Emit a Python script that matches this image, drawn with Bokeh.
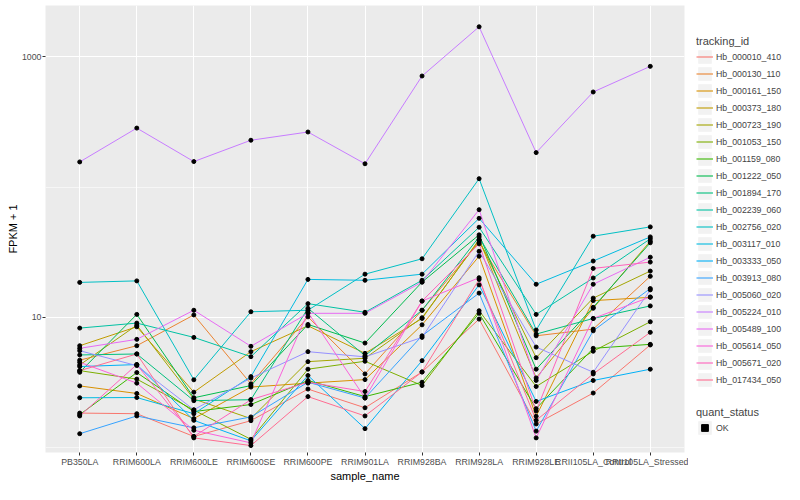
from bokeh.plotting import figure
from bokeh.models import Range1d, FixedTicker, BasicTickFormatter, Legend, LegendItem
from bokeh.layouts import row
from bokeh.embed import file_html
from bokeh.resources import INLINE

samples = ["PB350LA", "RRIM600LA", "RRIM600LE", "RRIM600SE", "RRIM600PE", "RRIM901LA",
           "RRIM928BA", "RRIM928LA", "RRIM928LE", "RRII105LA_Control", "RRII105LA_Stressed"]

tracking_ids = ["Hb_000010_410", "Hb_000130_110", "Hb_000161_150", "Hb_000373_180", "Hb_000723_190",
                "Hb_001053_150", "Hb_001159_080", "Hb_001222_050", "Hb_001894_170", "Hb_002239_060",
                "Hb_002756_020", "Hb_003117_010", "Hb_003333_050", "Hb_003913_080", "Hb_005060_020",
                "Hb_005224_010", "Hb_005489_100", "Hb_005614_050", "Hb_005671_020", "Hb_017434_050"]

colors = ["#F8766D", "#EA8331", "#D89000", "#C09B00", "#A3A500", "#7CAE00", "#39B600", "#00BB4E",
          "#00BF7D", "#00C1A3", "#00BFC4", "#00BAE0", "#00B0F6", "#35A2FF", "#9590FF", "#C77CFF",
          "#E76BF3", "#FA62DB", "#FF62BC", "#FF6C91"]

# FPKM + 1 per sample (order of `samples`)
Hb_000010_410 = [1.83, 1.81, 1.21, 1.60, 2.80, 2.01, 3.79, 9.66, 1.51, 2.61, 6.11]
Hb_000130_110 = [4.67, 6.03, 10.4, 3.07, 10.05, 3.66, 11.3, 37.7, 7.19, 8.09, 20.6]
Hb_000161_150 = [2.96, 2.59, 1.66, 2.90, 3.11, 3.31, 8.73, 29.4, 1.73, 13.4, 14.2]
Hb_000373_180 = [6.03, 8.43, 2.65, 5.43, 8.58, 5.27, 9.77, 39.5, 3.41, 11.7, 38.4]
Hb_000723_190 = [4.29, 8.68, 2.35, 1.66, 4.55, 4.83, 9.9, 39.0, 4.88, 14.0, 22.6]
Hb_001053_150 = [3.88, 3.34, 1.93, 1.15, 3.98, 4.58, 2.98, 11.2, 2.93, 5.47, 9.21]
Hb_001159_080 = [1.78, 3.75, 1.88, 2.13, 3.26, 2.45, 3.16, 10.7, 1.98, 5.76, 6.18]
Hb_001222_050 = [3.77, 10.5, 2.40, 2.98, 8.79, 6.32, 18.6, 42.9, 3.98, 11.9, 37.3]
Hb_001894_170 = [5.12, 5.21, 2.28, 2.32, 11.7, 5.06, 11.3, 41.4, 7.41, 9.77, 12.2]
Hb_002239_060 = [8.24, 9.00, 6.99, 4.97, 12.7, 10.9, 19.2, 49.1, 10.5, 20.0, 40.0]
Hb_002756_020 = [18.5, 19.0, 3.30, 11.0, 11.3, 21.4, 28.1, 116.0, 7.96, 41.9, 49.4]
Hb_003117_010 = [2.40, 2.41, 1.81, 3.49, 19.5, 19.2, 21.4, 57.5, 17.9, 27.0, 41.4]
Hb_003333_050 = [4.17, 4.32, 1.61, 1.12, 3.56, 1.39, 4.63, 17.7, 2.25, 3.26, 3.98]
Hb_003913_080 = [1.27, 1.74, 1.41, 1.71, 3.16, 2.39, 7.19, 15.3, 1.33, 7.85, 16.6]
Hb_005060_020 = [5.52, 4.24, 1.94, 3.40, 5.43, 4.95, 6.99, 32.1, 5.89, 3.77, 16.2]
Hb_005224_010 = [156.0, 284.0, 157.0, 229.0, 265.0, 151.0, 714.0, 1706.0, 184.0, 538.0, 847.0]
Hb_005489_100 = [5.76, 6.75, 11.3, 5.97, 10.7, 10.7, 18.6, 67.0, 3.26, 17.9, 28.9]
Hb_005614_050 = [4.50, 3.11, 1.35, 1.08, 10.9, 2.39, 13.3, 20.1, 1.18, 9.77, 14.3]
Hb_005671_020 = [1.74, 4.32, 1.21, 2.32, 3.16, 2.68, 13.3, 36.6, 1.90, 23.7, 26.5]
Hb_017434_050 = [3.88, 5.21, 1.18, 1.03, 2.45, 1.74, 3.79, 19.5, 1.61, 3.66, 7.64]

series = [Hb_000010_410, Hb_000130_110, Hb_000161_150, Hb_000373_180, Hb_000723_190,
          Hb_001053_150, Hb_001159_080, Hb_001222_050, Hb_001894_170, Hb_002239_060,
          Hb_002756_020, Hb_003117_010, Hb_003333_050, Hb_003913_080, Hb_005060_020,
          Hb_005224_010, Hb_005489_100, Hb_005614_050, Hb_005671_020, Hb_017434_050]

quant_status = ["OK"]

FONT = "Liberation Sans"
xs = list(range(1, len(samples) + 1))

p = figure(width=688, height=484, x_range=Range1d(0.4, len(samples) + 0.6),
           y_axis_type="log", y_range=Range1d(0.911, 2487),
           output_backend="svg", toolbar_location=None,
           min_border_left=45, min_border_right=4, min_border_top=5, min_border_bottom=30)

p.background_fill_color = "#EBEBEB"
p.border_fill_color = "white"
p.outline_line_color = None

p.xaxis.ticker = FixedTicker(ticks=xs)
p.xaxis.major_label_overrides = {x: s for x, s in zip(xs, samples)}
p.xgrid.ticker = FixedTicker(ticks=xs)
yt = FixedTicker(ticks=[10, 1000], minor_ticks=[1, 100])
p.yaxis.ticker = yt
p.ygrid.ticker = yt
p.yaxis.formatter = BasicTickFormatter(use_scientific=False)

p.grid.grid_line_color = "white"
p.grid.grid_line_width = 1.1
p.ygrid.minor_grid_line_color = "white"
p.ygrid.minor_grid_line_width = 0.55

p.axis.axis_line_color = None
p.axis.major_tick_line_color = "#333333"
p.axis.major_tick_out = 3
p.axis.major_tick_in = 0
p.axis.minor_tick_out = 0
p.axis.minor_tick_in = 0
p.axis.minor_tick_line_color = None
p.axis.major_label_standoff = 1
p.axis.major_label_text_font = FONT
p.axis.major_label_text_font_size = "8.8px"
p.axis.major_label_text_color = "#4D4D4D"
p.axis.axis_label_text_font = FONT
p.axis.axis_label_text_font_size = "11px"
p.axis.axis_label_text_font_style = "normal"
p.axis.axis_label_text_color = "black"
p.axis.axis_label_standoff = 0
p.xaxis.axis_label = "sample_name"
p.yaxis.axis_label = "FPKM + 1"

for vals, c in zip(series, colors):
    p.line(x=xs, y=vals, line_color=c, line_width=1.0)
for vals in series:
    p.scatter(x=xs, y=vals, size=4, color="black")

# legend panel (its glyphs sit outside its visible range; only the legends show)
lg = figure(width=96, height=484, x_range=Range1d(0, 1), y_range=Range1d(0, 1),
            output_backend="svg", toolbar_location=None,
            x_axis_location=None, y_axis_location=None,
            min_border_left=8, min_border_right=0, min_border_top=5, min_border_bottom=30)
lg.outline_line_color = None
lg.background_fill_color = "white"
lg.border_fill_color = "white"
lg.grid.visible = False

bg = lg.rect(x=[10], y=[10], width=1, height=1, fill_color="#F2F2F2", line_color=None)
items = []
for tid, c in zip(tracking_ids, colors):
    ln = lg.line(x=[10, 11], y=[10, 10], line_color=c, line_width=1.1)
    items.append(LegendItem(label=tid, renderers=[bg, ln]))
pt = lg.scatter(x=[10], y=[10], marker="square", size=4, color="black")


def style(leg):
    leg.padding = 0
    leg.margin = 0
    leg.spacing = 0
    leg.glyph_width = 17
    leg.glyph_height = 17
    leg.label_height = 17
    leg.label_standoff = 3
    leg.title_standoff = 1
    leg.border_line_color = None
    leg.background_fill_alpha = 0
    leg.label_text_font = FONT
    leg.label_text_font_size = "8.8px"
    leg.title_text_font = FONT
    leg.title_text_font_size = "11px"
    leg.title_text_font_style = "normal"


leg1 = Legend(items=items, title="tracking_id", location=(0, 64))
style(leg1)
lg.add_layout(leg1)

leg2 = Legend(items=[LegendItem(label=quant_status[0], renderers=[bg, pt])],
              title="quant_status", location=(0, 16))
style(leg2)
lg.add_layout(leg2)

layout = row(p, lg)
open("out.html", "w").write(file_html(layout, INLINE))
